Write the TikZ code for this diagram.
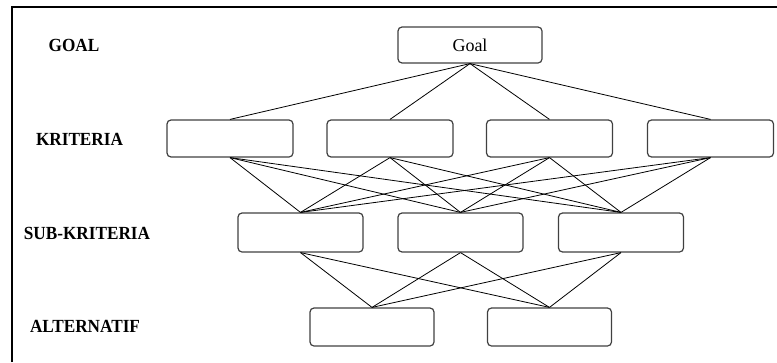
\documentclass[tikz,border=0pt]{standalone}
\usepackage{fontspec}
\setmainfont{Liberation Serif}
\begin{document}
\begin{tikzpicture}[x=1pt,y=-1pt,
  box/.style={draw=black!75,line width=1.2pt,rounded corners=4pt,rectangle,inner sep=0pt},
  lvl/.style={font=\fontsize{18.5}{21}\selectfont\bfseries,inner sep=0pt,xscale=0.93},
  link/.style={draw=black,line width=0.8pt}]
\useasboundingbox (0,0) rectangle (777,362);
\draw[line width=1.4pt] (12,362) -- (12,7) -- (777,7);
% level labels
\node[lvl] (lg) at (74,45) {GOAL};
\node[lvl] (lk) at (79.5,139) {KRITERIA};
\node[lvl] (ls) at (87,233) {SUB-KRITERIA};
\node[lvl] (la) at (85,326) {ALTERNATIF};
% boxes
\node[box,minimum width=144pt,minimum height=36pt,font=\fontsize{18}{20}\selectfont] (g) at (470,45) {Goal};
\foreach \i/\x in {1/230,2/390,3/549.5,4/710.5}
  \node[box,minimum width=126pt,minimum height=37pt] (k\i) at (\x,138.5) {};
\foreach \i/\x in {1/300.5,2/460.5,3/621}
  \node[box,minimum width=125pt,minimum height=39pt] (s\i) at (\x,232.5) {};
\foreach \i/\x in {1/372,2/549.5}
  \node[box,minimum width=124pt,minimum height=38pt] (a\i) at (\x,327) {};
% links
\foreach \i in {1,...,4} \draw[link] (g.south) -- (k\i.north);
\foreach \i in {1,...,4} \foreach \j in {1,2,3} \draw[link] (k\i.south) -- (s\j.north);
\foreach \j in {1,2,3} \foreach \m in {1,2} \draw[link] (s\j.south) -- (a\m.north);
\end{tikzpicture}
\end{document}
